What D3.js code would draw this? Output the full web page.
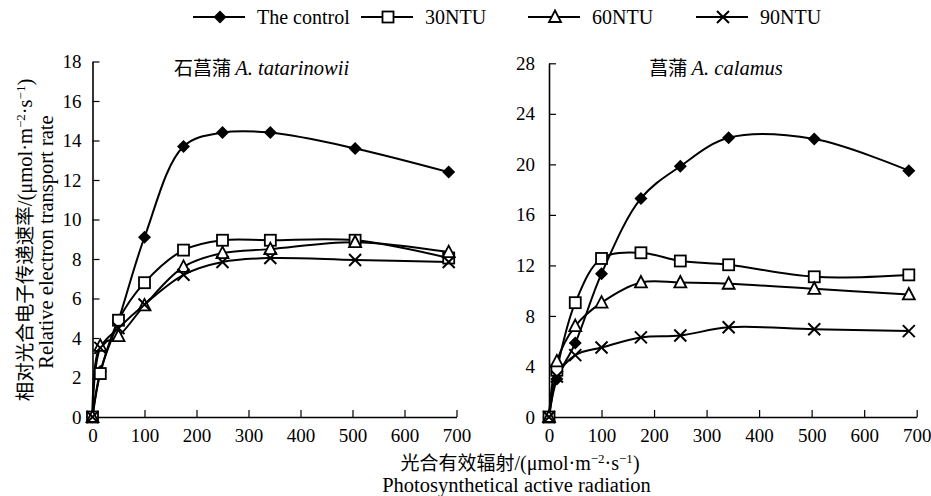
<!DOCTYPE html>
<html><head><meta charset="utf-8">
<script src="https://cdn.jsdelivr.net/npm/d3@7"></script>
<style>
body{margin:0;background:#fff;}
svg{font-family:"Liberation Serif","Times New Roman","Noto Sans CJK SC",serif;}
</style></head>
<body><svg id="c" width="931" height="496"></svg>
<script>
const par = [0, 15, 50, 100, 175, 250, 342, 505, 685];
const seriesNames = ["The control", "30NTU", "60NTU", "90NTU"];
const symbols = ["diamond", "square", "triangle", "cross"];

// 石菖蒲 A. tatarinowii
const leftControl = [0, 2.3, 4.9, 9.1, 13.7, 14.4, 14.4, 13.6, 12.4];
const left30 = [0, 2.2, 4.9, 6.8, 8.45, 8.95, 8.95, 8.95, 8.05];
const left60 = [0, 3.6, 4.1, 5.65, 7.6, 8.3, 8.5, 8.85, 8.35];
const left90 = [0, 3.5, 4.5, 5.7, 7.2, 7.85, 8.05, 7.95, 7.85];

// 菖蒲 A. calamus
const rightControl = [0, 3.0, 5.85, 11.35, 17.3, 19.85, 22.1, 22.0, 19.5];
const right30 = [0, 3.7, 9.05, 12.55, 13.0, 12.35, 12.05, 11.1, 11.25];
const right60 = [0, 4.4, 7.2, 9.05, 10.65, 10.65, 10.55, 10.15, 9.7];
const right90 = [0, 3.2, 4.9, 5.5, 6.3, 6.45, 7.1, 6.95, 6.8];

const xTicks = [0, 100, 200, 300, 400, 500, 600, 700];
const leftYTicks = [0, 2, 4, 6, 8, 10, 12, 14, 16, 18];
const rightYTicks = [0, 4, 8, 12, 16, 20, 24, 28];

const svg = d3.select("#c");

function symPath(type, x, y, g) {
  if (type === "diamond") {
    g.append("path").attr("d", `M${x},${y-6.5}L${x+6.5},${y}L${x},${y+6.5}L${x-6.5},${y}Z`).attr("fill", "#000");
  } else if (type === "square") {
    g.append("rect").attr("x", x-5.5).attr("y", y-5.5).attr("width", 11).attr("height", 11)
      .attr("fill", "#fff").attr("stroke", "#000").attr("stroke-width", 1.8);
  } else if (type === "triangle") {
    g.append("path").attr("d", `M${x},${y-6.5}L${x+6},${y+5}L${x-6},${y+5}Z`)
      .attr("fill", "#fff").attr("stroke", "#000").attr("stroke-width", 1.8);
  } else {
    g.append("path").attr("d", `M${x-6},${y-6}L${x+6},${y+6}M${x+6},${y-6}L${x-6},${y+6}`)
      .attr("stroke", "#000").attr("stroke-width", 2).attr("fill", "none");
  }
}

function panel(xr, yr, ymax, yticks, data, title, titleX, ypad) {
  const x = d3.scaleLinear().domain([0, 700]).range(xr);
  const y = d3.scaleLinear().domain([0, ymax]).range(yr);
  const g = svg.append("g");
  const xa = g.append("g").attr("transform", `translate(0,${yr[0]})`)
    .call(d3.axisBottom(x).tickValues(xTicks).tickSizeInner(-7).tickSizeOuter(0).tickPadding(12));
  const ya = g.append("g").attr("transform", `translate(${xr[0]},0)`)
    .call(d3.axisLeft(y).tickValues(yticks).tickSizeInner(-7).tickSizeOuter(0).tickPadding(ypad));
  [xa, ya].forEach(a => {
    a.select(".domain").attr("stroke", "#000").attr("stroke-width", 1.6);
    a.selectAll(".tick line").attr("stroke", "#000").attr("stroke-width", 1.2);
    a.selectAll(".tick text").attr("font-size", 19).attr("fill", "#000")
      .attr("font-family", "Liberation Serif");
  });
  const line = d3.line().x((d, i) => x(par[i])).y(d => y(d)).curve(d3.curveCatmullRom.alpha(0.5));
  data.forEach((vals, si) => {
    g.append("path").attr("d", line(vals)).attr("fill", "none").attr("stroke", "#000").attr("stroke-width", 2);
  });
  data.forEach((vals, si) => {
    vals.forEach((v, i) => symPath(symbols[si], x(par[i]), y(v), g));
  });
  const t = g.append("text").attr("x", titleX).attr("y", 75).attr("font-size", 20.5).attr("text-anchor", "middle");
  t.append("tspan").attr("font-family", "Noto Sans CJK SC").attr("font-size", 19).text(title[0] + " ");
  t.append("tspan").attr("font-style", "italic").text(title[1]);
}

panel([92.5, 456.5], [417, 61.5], 18, leftYTicks, [leftControl, left30, left60, left90], ["石菖蒲", "A. tatarinowii"], 261.5, 11);
panel([549, 916.7], [417, 63.3], 28, rightYTicks, [rightControl, right30, right60, right90], ["菖蒲", "A. calamus"], 716, 14);

// Legend
const legX = [193, 361, 528, 696];
const leg = svg.append("g");
seriesNames.forEach((n, i) => {
  const x0 = legX[i];
  leg.append("line").attr("x1", x0).attr("x2", x0 + 52).attr("y1", 17).attr("y2", 17).attr("stroke", "#000").attr("stroke-width", 2);
  symPath(symbols[i], x0 + 27, 17, leg);
  leg.append("text").attr("x", x0 + 64).attr("y", 24).attr("font-size", 20).text(n);
});

// Y axis title
const yt = svg.append("g").attr("transform", "translate(32,240) rotate(-90)");
const yt1 = yt.append("text").attr("text-anchor", "middle").attr("font-size", 20.5);
yt1.append("tspan").attr("font-family", "Noto Sans CJK SC").attr("font-size", 19.5).text("相对光合电子传递速率");
yt1.append("tspan").text("/(μmol·m");
yt1.append("tspan").attr("font-size", 13).attr("dy", -7).text("−2");
yt1.append("tspan").attr("dy", 7).text("·s");
yt1.append("tspan").attr("font-size", 13).attr("dy", -7).text("−1");
yt1.append("tspan").attr("dy", 7).text(")");
yt.append("text").attr("text-anchor", "middle").attr("x", -2).attr("y", 20.5).attr("font-size", 20.5).text("Relative electron transport rate");

// X axis title
const xt = svg.append("text").attr("x", 520).attr("y", 470).attr("text-anchor", "middle").attr("font-size", 20);
xt.append("tspan").attr("font-family", "Noto Sans CJK SC").attr("font-size", 19).text("光合有效辐射");
xt.append("tspan").text("/(μmol·m");
xt.append("tspan").attr("font-size", 13).attr("dy", -7).text("−2");
xt.append("tspan").attr("dy", 7).text("·s");
xt.append("tspan").attr("font-size", 13).attr("dy", -7).text("−1");
xt.append("tspan").attr("dy", 7).text(")");
svg.append("text").attr("x", 516.5).attr("y", 492).attr("text-anchor", "middle").attr("font-size", 20.5).text("Photosynthetical active radiation");
</script></body></html>
